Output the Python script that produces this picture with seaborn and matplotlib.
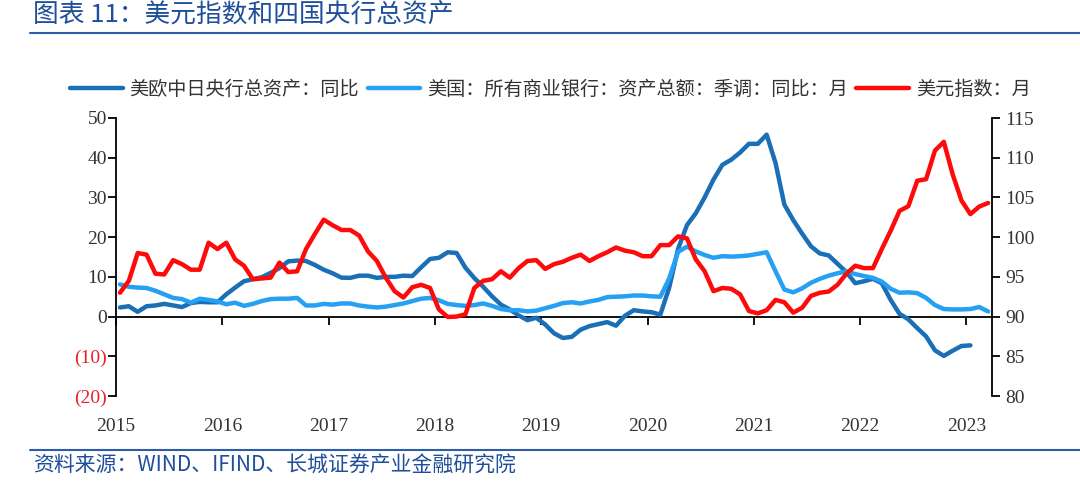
import numpy as np
import pandas as pd
import matplotlib
matplotlib.use("Agg")
import matplotlib.pyplot as plt
import seaborn as sns
from matplotlib.lines import Line2D

# ---------------- data (monthly, starting Jan 2015) ----------------
start_year = 2015
cb_assets_yoy = [2.3, 2.6, 1.2, 2.6, 2.8, 3.2, 2.8, 2.4, 3.4, 3.7, 3.6, 3.6,
                 5.6, 7.3, 8.9, 9.4, 9.9, 11.0, 12.2, 13.9, 14.1, 14.0, 13.0, 11.8,
                 10.9, 9.8, 9.75, 10.3, 10.3, 9.75, 10.0, 10.0, 10.3, 10.2, 12.4, 14.5,
                 14.8, 16.2, 16.0, 12.3, 9.7, 7.5, 5.1, 3.0, 1.8, 0.3, -0.9, -0.3,
                 -2.0, -4.2, -5.4, -5.1, -3.3, -2.4, -1.9, -1.4, -2.3, 0.2, 1.6, 1.3,
                 1.1, 0.5, 7.3, 17.0, 23.0, 26.0, 30.0, 34.5, 38.2, 39.5, 41.3, 43.5,
                 43.5, 45.8, 38.7, 28.2, 24.3, 20.9, 17.7, 15.9, 15.4, 13.3, 11.2, 8.4,
                 8.9, 9.5, 8.4, 4.2, 0.7, -0.7, -2.9, -5.0, -8.5, -9.9, -8.6, -7.4,
                 -7.25]
us_bank_assets_yoy = [8.1, 7.5, 7.3, 7.2, 6.5, 5.6, 4.7, 4.4, 3.5, 4.5, 4.2, 3.8,
                      3.1, 3.5, 2.7, 3.2, 3.9, 4.4, 4.5, 4.5, 4.7, 2.8, 2.8, 3.2,
                      3.0, 3.3, 3.3, 2.8, 2.5, 2.3, 2.5, 2.9, 3.3, 3.9, 4.5, 4.7,
                      4.1, 3.2, 2.9, 2.7, 2.9, 3.3, 2.7, 1.9, 1.6, 1.6, 1.3, 1.5,
                      2.1, 2.7, 3.4, 3.6, 3.3, 3.8, 4.2, 4.9, 5.0, 5.1, 5.3, 5.3,
                      5.1, 5.0, 9.6, 16.3, 17.6, 16.4, 15.5, 14.8, 15.2, 15.1, 15.2, 15.4,
                      15.8, 16.2, 11.4, 6.8, 6.1, 7.1, 8.5, 9.5, 10.3, 10.9, 11.4, 10.7,
                      10.2, 9.75, 8.8, 7.0, 6.0, 6.1, 5.9, 4.7, 2.9, 1.9, 1.8, 1.8,
                      1.9, 2.4, 1.3]
dollar_index = [93.0, 94.5, 98.0, 97.8, 95.4, 95.3, 97.1, 96.6, 95.9, 95.9, 99.3, 98.5,
                99.3, 97.2, 96.4, 94.7, 94.8, 94.9, 96.8, 95.6, 95.7, 98.5, 100.4, 102.2,
                101.5, 100.9, 100.9, 100.2, 98.2, 97.0, 94.9, 93.2, 92.4, 93.7, 94.0, 93.6,
                90.9, 89.95, 90.0, 90.3, 93.6, 94.5, 94.7, 95.7, 94.9, 96.1, 97.0, 97.1,
                96.0, 96.6, 96.9, 97.4, 97.8, 97.0, 97.6, 98.1, 98.7, 98.3, 98.1, 97.6,
                97.6, 99.0, 99.0, 100.1, 99.85, 97.2, 95.7, 93.2, 93.6, 93.5, 92.8, 90.7,
                90.4, 90.8, 92.1, 91.8, 90.5, 91.1, 92.6, 93.0, 93.15, 94.0, 95.4, 96.4,
                96.1, 96.1, 98.5, 100.8, 103.3, 103.9, 107.1, 107.3, 110.9, 112.0, 107.9, 104.6,
                102.9, 103.85, 104.3]

series_labels = ["美欧中日央行总资产：同比",
                 "美国：所有商业银行：资产总额：季调：同比：月",
                 "美元指数：月"]
left_ticks = [-20, -10, 0, 10, 20, 30, 40, 50]
left_tick_labels = ["(20)", "(10)", "0", "10", "20", "30", "40", "50"]
right_ticks = [80, 85, 90, 95, 100, 105, 110, 115]
year_ticks = list(range(2015, 2024))

title_text = "图表 11：美元指数和四国央行总资产"
source_text = "资料来源：WIND、IFIND、长城证券产业金融研究院"

# ---------------- style ----------------
sns.set_theme(style="white")
plt.rcParams['font.family'] = ['Noto Sans CJK SC', 'DejaVu Sans']

c_dark = "#1A6FB6"
c_light = "#25A0F2"
c_red = "#FF0A0A"
c_title = "#1F4E9A"
c_text = "#333333"

def month_x(n):
    return start_year + (np.arange(n) + 0.45) / 12.0

W, H = 1080, 483
fig = plt.figure(figsize=(W / 100, H / 100), dpi=100)
ax = fig.add_axes([116 / W, 1 - 396 / H, (992 - 116) / W, (396 - 118) / H])
ax2 = ax.twinx()

sns.lineplot(x=month_x(len(cb_assets_yoy)), y=cb_assets_yoy, ax=ax, color=c_dark,
             linewidth=3.2, label=series_labels[0])
sns.lineplot(x=month_x(len(us_bank_assets_yoy)), y=us_bank_assets_yoy, ax=ax, color=c_light,
             linewidth=3.2, label=series_labels[1])
sns.lineplot(x=month_x(len(dollar_index)), y=dollar_index, ax=ax2, color=c_red,
             linewidth=3.2, label=series_labels[2])

x0, x1 = 2015, 2015 + 876 / 106.3
ax.set_xlim(x0, x1)
ax.set_ylim(-20, 50)
ax2.set_ylim(80, 115)

# main axis
for s in ["top", "bottom", "right"]:
    ax.spines[s].set_visible(False)
ax.spines["left"].set_color("black")
ax.spines["left"].set_linewidth(1.3)
ax.set_yticks(left_ticks, left_tick_labels)
ax.set_xticks(year_ticks, [str(y) for y in year_ticks])
ax.tick_params(axis="y", left=True, direction="out", length=5.5, width=1.3, color="black",
               pad=1, labelsize=14, labelcolor=c_text, labelfontfamily="Liberation Serif")
ax.tick_params(axis="x", bottom=True, length=0, pad=16, labelsize=14, labelcolor=c_text,
               labelfontfamily="Liberation Serif")
for lab in ax.get_yticklabels():
    if lab.get_text().startswith("("):
        lab.set_color("#E8202A")
ax.set_xlabel("")
ax.set_ylabel("")
ax.grid(False)

# right axis
for s in ["top", "bottom", "left"]:
    ax2.spines[s].set_visible(False)
ax2.spines["right"].set_color("black")
ax2.spines["right"].set_linewidth(1.3)
ax2.set_yticks(right_ticks, [str(v) for v in right_ticks])
ax2.tick_params(axis="y", right=True, direction="out", length=5.5, width=1.3, color="black",
                pad=4, labelsize=14, labelcolor=c_text, labelfontfamily="Liberation Serif")
ax2.set_ylabel("")
ax2.grid(False)

# zero line with year ticks
zero_loc = (0 - ax.get_ylim()[0]) / (ax.get_ylim()[1] - ax.get_ylim()[0])
sec = ax.secondary_xaxis(zero_loc)
sec.set_xticks(year_ticks)
sec.tick_params(axis="x", bottom=True, top=False, direction="out", length=6, width=1.3,
                color="black", labelbottom=False, labeltop=False)
for s in ["top", "left", "right"]:
    if s in sec.spines:
        sec.spines[s].set_visible(False)
sec.spines["bottom"].set_visible(True)
sec.spines["bottom"].set_color("black")
sec.spines["bottom"].set_linewidth(1.3)

# legend
h1, l1 = ax.get_legend_handles_labels()
h2, l2 = ax2.get_legend_handles_labels()
for a in (ax, ax2):
    if a.get_legend() is not None:
        a.get_legend().remove()
fig.legend(h1 + h2, l1 + l2, loc="center left", bbox_to_anchor=(70 / W, 1 - 89 / H),
           ncol=3, frameon=False, fontsize=13.8, handlelength=2.75, handletextpad=0.35,
           columnspacing=0.45, borderpad=0, borderaxespad=0, labelcolor=c_text)

# title, source, rules
fig.text(33 / W, 1 - 16 / H, title_text, fontsize=18.5, color=c_title, ha="left", va="center")
fig.add_artist(Line2D([30 / W, 1.0], [1 - 32.5 / H] * 2, transform=fig.transFigure,
                      color="#2D5DA8", linewidth=1.5))
fig.add_artist(Line2D([30 / W, 1.0], [1 - 450 / H] * 2, transform=fig.transFigure,
                      color="#2D5DA8", linewidth=1.5))
fig.text(33 / W, 1 - 466 / H, source_text, fontsize=15, color=c_title, ha="left", va="center")

fig.savefig("out.png", dpi=100)
